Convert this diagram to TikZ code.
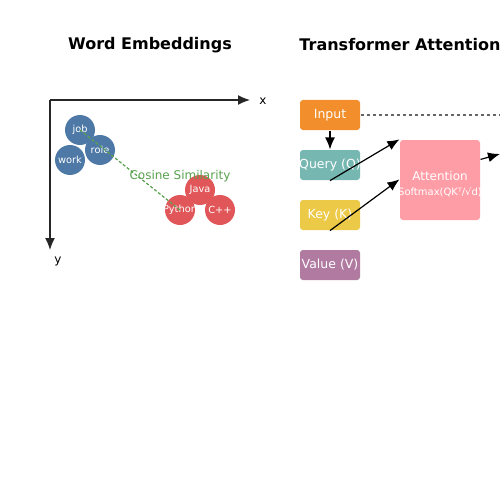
\documentclass[tikz,border=0pt]{standalone}
\usepackage{fontspec}
\setmainfont{DejaVu Sans}
\usetikzlibrary{arrows.meta}
\definecolor{wordBlue}{HTML}{4E79A7}
\definecolor{codeRed}{HTML}{E15759}
\definecolor{simGreen}{HTML}{59A14F}
\definecolor{inOrange}{HTML}{F28E2B}
\definecolor{queryTeal}{HTML}{76B7B2}
\definecolor{keyYellow}{HTML}{EDC948}
\definecolor{valuePurple}{HTML}{B07AA1}
\definecolor{attnPink}{HTML}{FF9DA7}
\newcommand{\noWidth}[1]{\makebox[0pt]{#1}}
\tikzset{%
  >={Latex[width=10pt,length=12pt]},
  % Specifications for style of nodes:
         title/.style = {font=\fontsize{16}{18}\selectfont\bfseries},
          word/.style = {circle, minimum size=30pt, inner sep=0pt,
                         text=white, font=\fontsize{9.8}{11}\selectfont},
      wordSoft/.style = {word, fill=wordBlue},
      wordCode/.style = {word, fill=codeRed},
         block/.style = {rectangle, rounded corners=3pt, minimum width=60pt,
                         minimum height=30pt, inner sep=0pt, text=white,
                         font=\fontsize{12.5}{14}\selectfont},
     inputNode/.style = {block, fill=inOrange},
     queryNode/.style = {block, fill=queryTeal},
       keyNode/.style = {block, fill=keyYellow},
     valueNode/.style = {block, fill=valuePurple},
      attnNode/.style = {block, fill=attnPink, minimum width=80pt,
                         minimum height=80pt},
      attnText/.style = {align=center, text=white,
                         font=\fontsize{12}{14}\selectfont},
}

\begin{document}
\begin{tikzpicture}[x=1pt, y=-1pt, line width=1.2pt]
  \clip (0,0) rectangle (500,500);
  \fill[white] (0,0) rectangle (500,500);

  % Titles
  \node (titleLeft)   [title] at (150,45) {Word Embeddings};
  \node (titleRight)  [title] at (400,45) {Transformer Attention};

  % Axes of the embedding space
  \coordinate (origin) at (50,100);
  \coordinate (xEnd)   at (250,100);
  \coordinate (yEnd)   at (50,250);
  \draw[->, draw=black!85, line width=1.4pt] (origin) -- (xEnd);
  \draw[->, draw=black!85, line width=1.4pt] (origin) -- (yEnd);
  \node (xLabel) [font=\fontsize{12}{14}\selectfont] at (263,101) {x};
  \node (yLabel) [font=\fontsize{12}{14}\selectfont] at (58,261)  {y};

  % Specification of word nodes
  \node (job)     [wordSoft] at (80,130)  {\noWidth{job}};
  \node (work)    [wordSoft] at (70,160)  {\noWidth{work}};
  \node (role)    [wordSoft] at (100,150) {\noWidth{role}};
  \node (java)    [wordCode] at (200,190) {\noWidth{Java}};
  \node (python)  [wordCode] at (180,210) {\noWidth{Python}};
  \node (cpp)     [wordCode] at (220,210) {\noWidth{C++}};

  \draw[simGreen, line width=1.2pt, dash pattern=on 3pt off 2pt]
        (job.center) -- (python.center);
  \node (cosine) [text=simGreen, font=\fontsize{12}{14}\selectfont]
        at (180,176) {Cosine Similarity};

  % Specification of attention blocks
  \node (input)     [inputNode] at (330,115) {Input};
  \node (query)     [queryNode] at (330,165) {\noWidth{Query (Q)}};
  \node (key)       [keyNode]   at (330,215) {Key (K)};
  \node (value)     [valueNode] at (330,265) {Value (V)};
  \node (attention) [attnNode]  at (440,180) {};
  \node (attnLabel) [attnText]  at ([yshift=-4pt]attention.center)
        {Attention\\[1pt]{\fontsize{10}{12}\selectfont\noWidth{Softmax(QKᵀ/√d)}}};
  \coordinate (outEnd) at (500,154);
  \coordinate (inputEnd) at (500,115);

  % Specification of lines between nodes
  \draw[->] (input) -- (query);
  \draw[->] (query.south) -- (attention.north west);
  \draw[->] (key.south) -- ([yshift=-40pt]attention.north west);
  \draw[->] ([yshift=-20pt]attention.north east) -- (outEnd);
  \draw[gray!80!black, line width=1.2pt, dash pattern=on 3pt off 3pt]
        (input.east) -- (inputEnd);
\end{tikzpicture}
\end{document}
